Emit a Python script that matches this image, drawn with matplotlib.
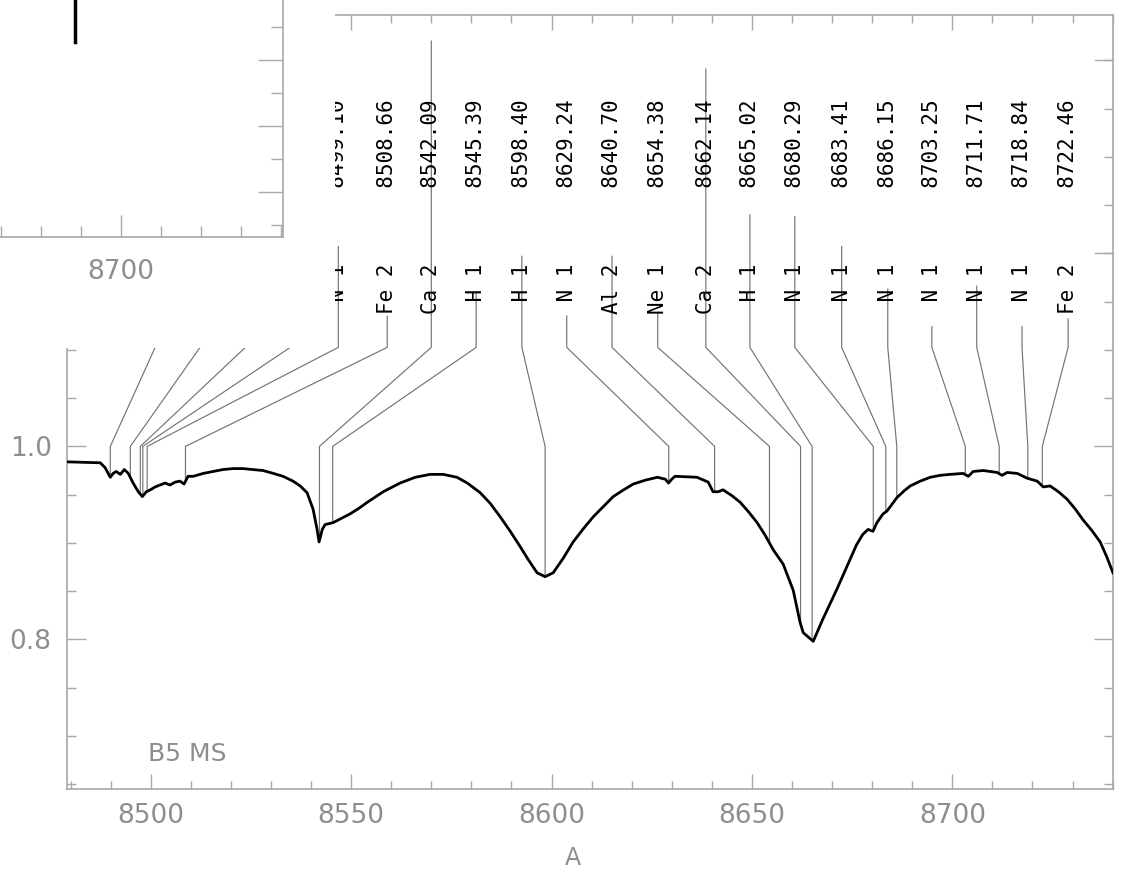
import numpy as np
import matplotlib
matplotlib.use("Agg")
import matplotlib.pyplot as plt
from matplotlib.ticker import MultipleLocator, FixedLocator, NullFormatter

# ── spectrum ───────────────────────────────────────────────────────────────────
wave = [8479.1, 8487.4, 8488.6, 8489.9, 8490.6, 8491.4, 8492.4, 8493.4, 8494.4, 8495.6,
        8496.9, 8497.9, 8498.9, 8499.9, 8501.1, 8502.3, 8503.6, 8504.8, 8506.1, 8507.3,
        8508.3, 8509.3, 8510.6, 8513.1, 8515.6, 8518.0, 8520.6, 8523.0, 8525.6, 8528.0,
        8530.6, 8533.0, 8535.5, 8537.3, 8539.0, 8540.5, 8541.5, 8542.0, 8542.8, 8543.5,
        8545.5, 8549.7, 8552.0, 8554.0, 8558.0, 8562.2, 8566.0, 8569.7, 8573.0, 8576.4,
        8579.0, 8582.2, 8584.7, 8587.2, 8589.7, 8592.2, 8594.3, 8596.4, 8598.4, 8600.4,
        8602.9, 8605.4, 8608.0, 8610.4, 8613.0, 8615.4, 8618.0, 8620.4, 8623.4, 8626.4,
        8628.4, 8629.2, 8630.0, 8630.8, 8636.3, 8639.1, 8640.3, 8641.6, 8642.8, 8645.0,
        8647.1, 8649.2, 8651.3, 8653.3, 8655.3, 8657.8, 8660.3, 8662.0, 8662.8, 8665.3,
        8667.7, 8669.5, 8671.2, 8672.9, 8674.5, 8676.1, 8677.7, 8679.0, 8680.2, 8681.2,
        8682.7, 8683.7, 8686.2, 8688.0, 8689.5, 8692.0, 8694.5, 8697.0, 8699.5, 8702.7,
        8704.0, 8705.2, 8707.7, 8711.2, 8712.4, 8713.7, 8716.2, 8718.7, 8721.2, 8722.7,
        8724.4, 8726.5, 8728.7, 8730.7, 8732.6, 8734.8, 8736.9, 8738.5, 8740.1]
flux = [0.984, 0.983, 0.978, 0.968, 0.972, 0.974, 0.971, 0.976, 0.972, 0.962,
        0.953, 0.948, 0.953, 0.955, 0.958, 0.960, 0.962, 0.960, 0.963, 0.964,
        0.961, 0.969, 0.969, 0.972, 0.974, 0.976, 0.977, 0.977, 0.976, 0.975,
        0.972, 0.969, 0.964, 0.959, 0.952, 0.935, 0.914, 0.901, 0.914, 0.919,
        0.921, 0.930, 0.936, 0.942, 0.953, 0.962, 0.968, 0.971, 0.971, 0.968,
        0.962, 0.952, 0.941, 0.927, 0.912, 0.896, 0.882, 0.869, 0.865, 0.869,
        0.884, 0.901, 0.915, 0.927, 0.938, 0.948, 0.955, 0.961, 0.965, 0.968,
        0.966, 0.962, 0.966, 0.969, 0.968, 0.963, 0.953, 0.953, 0.955, 0.949,
        0.942, 0.932, 0.921, 0.908, 0.893, 0.878, 0.851, 0.818, 0.807, 0.798,
        0.821, 0.837, 0.852, 0.868, 0.883, 0.898, 0.909, 0.914, 0.912, 0.921,
        0.930, 0.933, 0.947, 0.954, 0.959, 0.964, 0.968, 0.970, 0.971, 0.972,
        0.969, 0.974, 0.975, 0.973, 0.970, 0.973, 0.972, 0.967, 0.964, 0.958,
        0.959, 0.953, 0.945, 0.935, 0.924, 0.913, 0.901, 0.886, 0.869]

# ── line identifications ──────────────────────────────────────────────────────
line_elem = ["N", "N", "Fe", "Ca", "N", "Fe", "Ca", "H", "H", "N", "Al",
             "Ne", "Ca", "H", "N", "N", "N", "N", "N", "N", "Fe"]
line_ion = [1, 1, 1, 2, 1, 2, 2, 1, 1, 1, 2, 1, 2, 1, 1, 1, 1, 1, 1, 1, 2]
line_wave = [8489.90, 8494.90, 8497.40, 8498.02, 8499.10, 8508.66, 8542.09,
             8545.39, 8598.40, 8629.24, 8640.70, 8654.38, 8662.14, 8665.02,
             8680.29, 8683.41, 8686.15, 8703.25, 8711.71, 8718.84, 8722.46]
label_pos = [8501.1, 8512.3, 8523.6, 8534.8, 8546.8, 8559.0, 8570.0, 8581.2,
             8592.6, 8603.8, 8615.1, 8626.5, 8638.5, 8649.5, 8660.7, 8672.4,
             8683.9, 8694.9, 8706.1, 8717.4, 8728.9]
line_top = [1.135, 1.135, 1.135, 1.135, 1.207, 1.135, 1.420, 1.160, 1.197,
            1.135, 1.197, 1.139, 1.391, 1.240, 1.238, 1.207, 1.163, 1.124,
            1.166, 1.124, 1.132]

LABEL_BASE = 1.137   # flux where the label text starts
BEND_HI = 1.1026     # leader goes vertical -> diagonal here
BEND_LO = 1.0        # diagonal -> vertical here
COVERED_TO = 8545.0  # labels left of this sit under the pasted panel

TICK_C = "#a8a8a8"
TEXT_C = "#8e8e8e"
W, H = 1124, 874

fig = plt.figure(figsize=(W / 100, H / 100), dpi=100)
ax = fig.add_axes([67 / W, 85 / H, 1046 / W, 774 / H])

ax.plot(wave, flux, color="black", linewidth=2.0, zorder=3)

for el, ion, wl, lx, top in zip(line_elem, line_ion, line_wave, label_pos, line_top):
    f_at = np.interp(wl, wave, flux)
    ax.plot([lx, lx, wl, wl], [top, BEND_HI, BEND_LO, f_at],
            color="#747474", linewidth=0.85, zorder=2)
    if lx < COVERED_TO:
        continue  # hidden under the white panel anyway
    ax.text(lx, LABEL_BASE, f"{el:>2} {ion}      {wl:7.2f}", rotation=90,
            ha="center", va="bottom", family="DejaVu Sans Mono", fontsize=15,
            color="black")

ax.text(8499.4, 0.681, "B5 MS", fontsize=18, color=TEXT_C, va="center", ha="left")

ax.set_xlim(8479.1, 8740.1)
ax.set_ylim(0.645, 1.447)
ax.xaxis.set_major_locator(MultipleLocator(50))
ax.xaxis.set_minor_locator(MultipleLocator(10))
ax.yaxis.set_major_locator(FixedLocator([0.8, 1.0]))
ax.yaxis.set_minor_locator(MultipleLocator(0.05))
ax.yaxis.set_major_formatter(plt.FuncFormatter(lambda v, p: f"{v:.1f}"))
ax.tick_params(which="both", direction="in", top=True, right=True,
               color=TICK_C, labelcolor=TEXT_C, labelsize=19, width=1.0)
ax.tick_params(axis="x", which="major", length=11, pad=10)
ax.tick_params(axis="x", which="minor", length=6)
ax.tick_params(axis="y", which="major", length=14, pad=11)
ax.tick_params(axis="y", which="minor", length=6.5)
for s in ax.spines.values():
    s.set_color(TICK_C)
    s.set_linewidth(1.2)
# the right side also carries the longer ticks at 1.2 and 1.4
for yv in (1.2, 1.4):
    ax.plot([8740.1 - 4.6, 8740.1], [yv, yv], color=TICK_C, linewidth=1.0,
            clip_on=False, zorder=4)

fig.text(573 / W, 1 - 858 / H, "A", fontsize=17, color=TEXT_C,
         ha="center", va="center")

# ── white patch of another panel lying on top (upper left) ────────────────────
pax = fig.add_axes([0, 1 - 348 / H, 335 / W, 348 / H], zorder=5)
pax.set_facecolor("white")
pax.set_xticks([])
pax.set_yticks([])
for s in pax.spines.values():
    s.set_visible(False)

iax = fig.add_axes([0, 1 - 237 / H, 283 / W, 237 / H], zorder=6)
iax.set_facecolor("none")
iax.set_xlim(8669.75, 8740.5)
iax.set_ylim(0, 237)
iax.plot([8688.5, 8688.5], [195, 240], color="black", linewidth=2.5)
iax.xaxis.set_major_locator(FixedLocator([8700]))
iax.xaxis.set_minor_locator(MultipleLocator(10))
iax.yaxis.set_major_locator(FixedLocator([45, 111, 177]))
iax.yaxis.set_minor_locator(FixedLocator([12, 78, 144, 210]))
iax.yaxis.set_major_formatter(NullFormatter())
iax.tick_params(which="both", direction="in", color=TICK_C, labelcolor=TEXT_C,
                labelsize=19, width=1.0)
iax.tick_params(axis="x", which="major", length=16, pad=16)
iax.tick_params(axis="x", which="minor", length=8)
iax.tick_params(axis="y", left=False, right=True, labelleft=False,
                which="both")
iax.tick_params(axis="y", which="major", length=18)
iax.tick_params(axis="y", which="minor", length=9)
iax.spines["left"].set_visible(False)
iax.spines["top"].set_visible(False)
for side in ("right", "bottom"):
    iax.spines[side].set_color(TICK_C)
    iax.spines[side].set_linewidth(1.2)

fig.savefig("out.png", dpi=100, facecolor="white")
